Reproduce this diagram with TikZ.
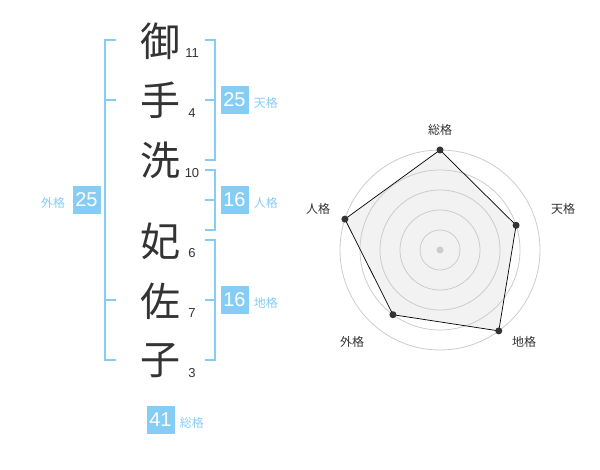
\documentclass[tikz,border=0pt]{standalone}
\usepackage{fontspec}
\setmainfont{Noto Sans CJK JP}
\newfontfamily\numfont{Liberation Sans}
\usepackage{tikz}
\usetikzlibrary{positioning}
\definecolor{kakublue}{HTML}{86CDF6}
\definecolor{inkgray}{HTML}{333333}
\definecolor{ringgray}{HTML}{CCCCCC}
\definecolor{areagray}{HTML}{F2F2F2}
\tikzset{kanji/.style={inner sep=0pt, text=inkgray, font=\fontsize{40}{40}\selectfont}}
\tikzset{strokes/.style={inner sep=0pt, text=inkgray, font=\numfont\fontsize{13}{13}\selectfont}}
\tikzset{kbox/.style={fill=kakublue, text=white, minimum size=28pt, inner sep=0pt, font=\numfont\fontsize{20}{20}\selectfont}}
\tikzset{klabel/.style={inner sep=0pt, text=kakublue, font=\fontsize{12}{12}\selectfont}}
\tikzset{bracket/.style={draw=kakublue, line width=2pt}}
\tikzset{rlabel/.style={inner sep=0pt, text=inkgray, font=\fontsize{12}{12}\selectfont}}
\tikzset{ring/.style={draw=ringgray, line width=0.8pt}}
\tikzset{rdot/.style={circle, fill=inkgray, inner sep=0pt, minimum size=7pt}}

\begin{document}
\begin{tikzpicture}[x=1pt,y=-1pt]
    \useasboundingbox (0,0) rectangle (600,470);
    
    % name
    \node[kanji] (k1) at (160,41) {御};
    \node[kanji] (k2) at (160,100) {手};
    \node[kanji] (k3) at (160,160) {洗};
    \node[kanji] (k4) at (160,241) {妃};
    \node[kanji] (k5) at (160,301) {佐};
    \node[kanji] (k6) at (160,361) {子};
    
    \node[strokes] (n1) at (192,53) {11};
    \node[strokes] (n2) at (192,113) {4};
    \node[strokes] (n3) at (192,173) {10};
    \node[strokes] (n4) at (192,253) {6};
    \node[strokes] (n5) at (192,313) {7};
    \node[strokes] (n6) at (192,373) {3};
    
    % brackets
    \draw[bracket] (116,40) -- (105,40) -- (105,360) -- (116,360);
    \draw[bracket] (105,100) -- (116,100);
    \draw[bracket] (105,300) -- (116,300);
    
    \draw[bracket] (205,40) -- (215,40) -- (215,160) -- (205,160);
    \draw[bracket] (205,100) -- (215,100);
    \draw[bracket] (205,170) -- (215,170) -- (215,230) -- (205,230);
    \draw[bracket] (205,200) -- (215,200);
    \draw[bracket] (205,240) -- (215,240) -- (215,360) -- (205,360);
    \draw[bracket] (205,300) -- (215,300);
    
    % scores
    \node[kbox] (ten) at (234.5,100) {25};
    \node[klabel,right=5pt of ten,yshift=-3pt] (tenl) {天格};
    \node[kbox] (jin) at (234.5,200) {16};
    \node[klabel,right=5pt of jin,yshift=-3pt] (jinl) {人格};
    \node[kbox] (chi) at (234.5,300) {16};
    \node[klabel,right=5pt of chi,yshift=-3pt] (chil) {地格};
    \node[kbox] (gai) at (86.5,200) {25};
    \node[klabel,left=7pt of gai,yshift=-3pt] (gail) {外格};
    \node[kbox] (sou) at (160.5,419.5) {41};
    \node[klabel,right=5pt of sou,yshift=-3pt] (soul) {総格};
    
    % radar
    \begin{scope}[shift={(440,250)},y=1pt]
        \coordinate (c0) at (0,0);
        \coordinate (p1) at (90:100);
        \coordinate (p2) at (18:80);
        \coordinate (p3) at (-54:100);
        \coordinate (p4) at (-126:80);
        \coordinate (p5) at (162:100);
        \fill[areagray] (p1) -- (p2) -- (p3) -- (p4) -- (p5) -- cycle;
        \draw[ring] (c0) circle (20) (c0) circle (40) (c0) circle (60) (c0) circle (80) (c0) circle (100);
        \fill[ringgray] (c0) circle (3.5);
        \draw[black, line width=0.7pt] (p1) -- (p2) -- (p3) -- (p4) -- (p5) -- cycle;
        \node[rdot] (d1) at (p1) {};
        \node[rdot] (d2) at (p2) {};
        \node[rdot] (d3) at (p3) {};
        \node[rdot] (d4) at (p4) {};
        \node[rdot] (d5) at (p5) {};
        \node[rlabel] (l1) at (0,120) {総格};
        \node[rlabel] (l2) at (123,41) {天格};
        \node[rlabel] (l3) at (84,-92) {地格};
        \node[rlabel] (l4) at (-88,-92) {外格};
        \node[rlabel] (l5) at (-122,41) {人格};
    \end{scope}
\end{tikzpicture}
\end{document}
